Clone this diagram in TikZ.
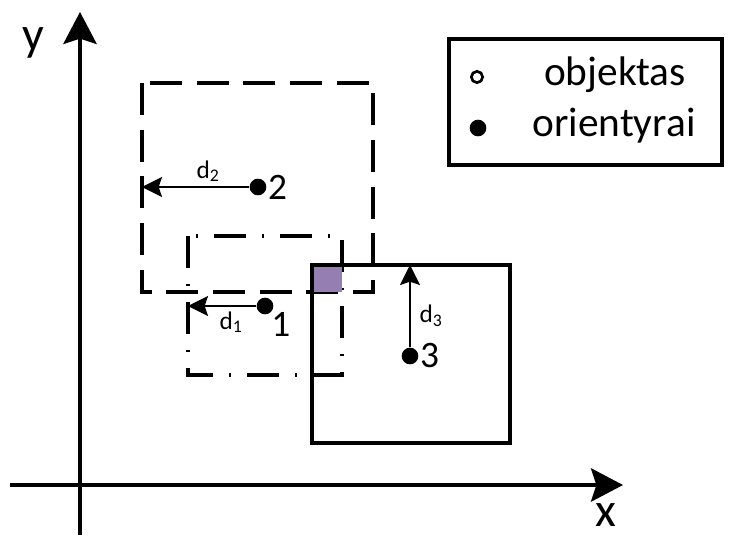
\documentclass[tikz,border=0pt]{standalone}
\usepackage{fontspec}
\setmainfont{Carlito}
\usetikzlibrary{arrows.meta,positioning}
\begin{document}
\begin{tikzpicture}[x=0.75pt,y=-0.75pt,
  axis/.style={line width=2.6pt,-{Stealth[length=24pt,width=25pt,inset=4pt]}},
  axislabel/.style={font=\fontsize{36pt}{36pt}\selectfont,inner sep=0pt},
  boxline/.style={line width=2.8pt},
  dist/.style={line width=1.5pt,-{Stealth[length=15pt,width=15pt,inset=2.5pt]}},
  dot/.style={circle,fill,inner sep=0pt,minimum size=12.5pt},
  numlabel/.style={font=\fontsize{28pt}{28pt}\selectfont,inner sep=1pt},
  dlabel/.style={font=\fontsize{19pt}{19pt}\selectfont,inner sep=1pt}]
\useasboundingbox (0,0) rectangle (731,535);

% axes
\draw[axis] (80,535) -- (80,12);
\draw[axis] (10,485) -- (623,485);
\node[axislabel] (ylab) at (33,43) {y};
\node[axislabel,anchor=south] (xlab) at (606,527) {x};

% landmark areas
\draw[boxline,dash pattern=on 24pt off 11pt] (142,83) rectangle (373,292);
\draw[boxline,dash pattern=on 24pt off 12pt on 1.5pt off 12pt] (188,236) rectangle (342,375);
\fill[fill={rgb,255:red,148;green,126;blue,178}] (312,265) rectangle (342,292);
\draw[boxline] (312,265) rectangle (510,443);

% landmark 2
\node[dot] (p2) at (258,187) {};
\node[numlabel,anchor=west] (n2) at (p2.east) {2};
\coordinate (e2) at (142,187);
\draw[dist] (p2) -- (e2);
\node[dlabel] (d2) at (208,171) {d\textsubscript{2}};

% landmark 1
\node[dot] (p1) at (265,306) {};
\node[numlabel,anchor=north west,inner sep=0pt] (n1) at (p1.south east) {1};
\coordinate (e1) at (188,306);
\draw[dist] (p1) -- (e1);
\node[dlabel] (d1) at (231,322) {d\textsubscript{1}};

% landmark 3
\node[dot] (p3) at (410,356) {};
\node[numlabel,anchor=west] (n3) at (p3.east) {3};
\coordinate (e3) at (410,265);
\draw[dist] (p3) -- (e3);
\node[dlabel] (d3) at (431,316) {d\textsubscript{3}};

% legend
\draw[boxline] (449,39) rectangle (722,165);
\node[circle,draw,line width=2pt,inner sep=0pt,minimum size=8.5pt] (lobj) at (477,77) {};
\node[dot] (lori) at (478,128) {};
\node[font=\fontsize{31pt}{31pt}\selectfont] (tobj) at (615,75) {objektas};
\node[font=\fontsize{31pt}{31pt}\selectfont] (tori) at (614,126) {orientyrai};
\end{tikzpicture}
\end{document}
